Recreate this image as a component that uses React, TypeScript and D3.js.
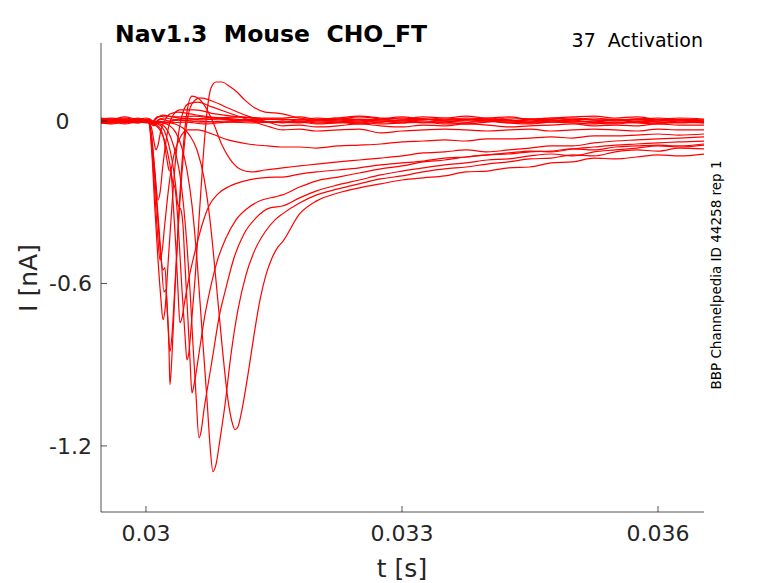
import React, { useEffect, useRef } from "react";
import * as d3 from "d3";

// time in ms, current in nA
const preT = [29.47, 29.6, 29.75, 29.9, 30.0];
const tailT = [31.6, 31.8, 32.0, 32.25, 32.5, 32.75, 33.0, 33.25, 33.5, 33.75, 34.0, 34.25, 34.5, 34.75, 35.0, 35.25, 35.5, 35.75, 36.0, 36.25, 36.54];

const xTicks = [0.03, 0.033, 0.036];
const yTicks = [0, -0.6, -1.2];

type Trace = { pre: number[]; head: [number, number][]; tail: number[] };

const z1: Trace = {
  pre: [0.004, 0.007, 0.0, 0.011, 0.004],
  head: [[30.047, 0.004], [30.105, -0.007], [30.164, 0.007], [30.281, 0], [30.457, 0.011], [30.633, 0.004], [30.867, 0.007], [31.16, 0], [31.395, 0.007]],
  tail: [0.004, 0.007, 0, 0.004, 0.007, 0.004, 0.011, 0.007, 0.004, 0.011, 0.007, 0.004, 0, 0.007, 0.011, 0.004, 0.007, 0, 0.004, 0.007, 0.004],
};
const z2: Trace = {
  pre: [-0.004, 0.0, 0.004, -0.004, 0.0],
  head: [[30.047, -0.004], [30.094, -0.015], [30.141, 0], [30.234, -0.004], [30.398, 0.004], [30.633, -0.004], [30.926, 0], [31.219, 0.004], [31.453, -0.004]],
  tail: [0, -0.004, 0.004, 0, -0.004, 0.004, 0, 0.007, 0, -0.004, 0.004, 0, 0.007, 0.004, -0.004, 0, 0.004, -0.004, 0, 0.004, 0],
};
const z3: Trace = {
  pre: [0.011, 0.007, 0.015, 0.007, 0.011],
  head: [[30.047, 0.007], [30.082, 0], [30.129, 0.015], [30.223, 0.018], [30.375, 0.015], [30.574, 0.018], [30.809, 0.011], [31.102, 0.015], [31.359, 0.011]],
  tail: [0.011, 0.015, 0.007, 0.011, 0.018, 0.011, 0.007, 0.015, 0.011, 0.018, 0.011, 0.015, 0.007, 0.011, 0.015, 0.018, 0.011, 0.015, 0.007, 0.011, 0.007],
};
const z4: Trace = {
  pre: [-0.007, -0.011, -0.004, -0.007, -0.004],
  head: [[30.047, -0.007], [30.094, -0.018], [30.152, -0.004], [30.258, -0.007], [30.457, -0.004], [30.691, -0.011], [30.984, -0.004], [31.277, -0.007], [31.453, -0.004]],
  tail: [-0.007, -0.004, -0.011, -0.007, -0.004, -0.011, -0.007, -0.004, -0.011, -0.007, 0, -0.007, -0.011, -0.004, -0.007, -0.011, -0.004, -0.007, -0.011, -0.004, -0.007],
};
const z5: Trace = {
  pre: [0.007, 0.004, 0.011, 0.004, 0.007],
  head: [[30.047, 0.004], [30.082, -0.004], [30.129, 0.011], [30.199, 0.022], [30.305, 0.015], [30.516, 0.007], [30.75, 0.011], [31.043, 0.004], [31.336, 0.007]],
  tail: [0.007, 0.004, 0.011, 0.004, 0, 0.007, 0.015, 0.007, 0.004, 0.007, 0, 0.011, 0.007, 0, 0.004, 0.011, 0.004, 0.007, 0.011, 0.004, 0],
};
const z6: Trace = {
  pre: [-0.004, -0.007, 0.0, -0.004, 0.0],
  head: [[30.047, 0], [30.094, -0.011], [30.141, 0.004], [30.211, 0.011], [30.352, 0.004], [30.586, 0], [30.867, -0.004], [31.16, 0], [31.43, -0.004]],
  tail: [-0.004, 0, -0.007, -0.004, 0.004, 0, -0.007, 0, -0.004, 0.004, 0, -0.007, -0.004, 0.004, 0, -0.004, -0.007, 0, -0.004, -0.007, -0.004],
};
const q3: Trace = {
  pre: [0.0, 0.004, -0.004, 0.004, 0.0],
  head: [[30.035, -0.004], [30.07, -0.033], [30.094, -0.077], [30.117, -0.107], [30.141, -0.089], [30.176, -0.033], [30.223, 0.004], [30.281, 0.026], [30.375, 0.033], [30.516, 0.026], [30.75, 0.015], [31.043, 0.007], [31.336, 0]],
  tail: [-0.004, -0.007, 0, -0.004, -0.011, -0.004, 0, -0.007, -0.004, -0.011, -0.004, 0, -0.007, -0.004, 0, -0.007, -0.011, -0.004, -0.007, 0, -0.007],
};
const q2: Trace = {
  pre: [0.007, 0.0, 0.007, 0.0, 0.004],
  head: [[30.035, -0.004], [30.07, -0.07], [30.105, -0.188], [30.141, -0.292], [30.164, -0.266], [30.199, -0.162], [30.246, -0.052], [30.305, 0.015], [30.398, 0.041], [30.574, 0.041], [30.809, 0.026], [31.102, 0.015], [31.395, 0.007]],
  tail: [0.007, 0, 0.004, 0.011, 0.004, -0.004, 0.004, 0.007, 0, 0.004, 0.011, 0.004, -0.004, 0, 0.007, 0.004, 0, 0.007, 0.004, -0.004, 0],
};
const q1: Trace = {
  pre: [-0.007, -0.004, -0.011, -0.004, -0.007],
  head: [[30.035, -0.007], [30.07, -0.107], [30.105, -0.273], [30.141, -0.439], [30.164, -0.513], [30.188, -0.483], [30.223, -0.373], [30.27, -0.236], [30.328, -0.125], [30.398, -0.063], [30.492, -0.033], [30.609, -0.033], [30.773, -0.048], [30.961, -0.07], [31.195, -0.085], [31.43, -0.092]],
  tail: [-0.096, -0.096, -0.1, -0.092, -0.089, -0.085, -0.077, -0.074, -0.07, -0.074, -0.066, -0.066, -0.063, -0.059, -0.063, -0.055, -0.055, -0.052, -0.048, -0.052, -0.048],
};
const a: Trace = {
  pre: [0.004, -0.004, 0.0, 0.007, 0.0],
  head: [[30.035, -0.007], [30.07, -0.125], [30.105, -0.328], [30.141, -0.513], [30.176, -0.661], [30.199, -0.734], [30.223, -0.697], [30.258, -0.531], [30.305, -0.31], [30.352, -0.125], [30.41, 0.004], [30.492, 0.063], [30.609, 0.07], [30.773, 0.052], [31.043, 0.022], [31.277, -0.004], [31.453, -0.022]],
  tail: [-0.033, -0.03, -0.037, -0.033, -0.03, -0.044, -0.037, -0.033, -0.03, -0.033, -0.037, -0.033, -0.03, -0.037, -0.033, -0.03, -0.033, -0.037, -0.03, -0.033, -0.033],
};
const b: Trace = {
  pre: [-0.004, 0.004, -0.007, 0.0, -0.004],
  head: [[30.035, -0.004], [30.07, -0.07], [30.105, -0.199], [30.141, -0.347], [30.176, -0.494], [30.211, -0.631], [30.234, -0.624], [30.258, -0.742], [30.281, -0.852], [30.305, -0.79], [30.34, -0.605], [30.387, -0.347], [30.434, -0.144], [30.48, -0.004], [30.539, 0.063], [30.633, 0.085], [30.773, 0.074], [30.961, 0.048], [31.195, 0.018], [31.43, -0.004]],
  tail: [-0.018, -0.015, -0.022, -0.018, -0.011, -0.018, -0.022, -0.015, -0.018, -0.011, -0.015, -0.022, -0.018, -0.015, -0.011, -0.018, -0.015, -0.018, -0.011, -0.015, -0.015],
};
const c: Trace = {
  pre: [0.0, -0.007, 0.004, -0.004, 0.0],
  head: [[30.035, -0.007], [30.07, -0.089], [30.105, -0.218], [30.141, -0.373], [30.176, -0.506], [30.199, -0.55], [30.223, -0.542], [30.246, -0.679], [30.27, -0.845], [30.281, -0.974], [30.305, -0.863], [30.34, -0.624], [30.387, -0.328], [30.434, -0.107], [30.48, 0.033], [30.539, 0.092], [30.609, 0.085], [30.691, 0.055], [30.785, -0.004], [30.891, -0.089], [31.008, -0.151], [31.125, -0.181], [31.242, -0.188], [31.395, -0.181]],
  tail: [-0.173, -0.166, -0.159, -0.151, -0.144, -0.137, -0.129, -0.118, -0.114, -0.107, -0.114, -0.107, -0.1, -0.092, -0.092, -0.081, -0.074, -0.07, -0.066, -0.063, -0.059],
};
const e: Trace = {
  pre: [0.007, 0.011, 0.004, 0.007, 0.004],
  head: [[30.047, -0.004], [30.105, -0.015], [30.164, -0.033], [30.223, -0.077], [30.281, -0.162], [30.316, -0.229], [30.34, -0.247], [30.375, -0.373], [30.422, -0.624], [30.457, -0.79], [30.48, -0.882], [30.504, -0.852], [30.527, -0.771], [30.574, -0.587], [30.621, -0.365], [30.668, -0.144], [30.715, 0.033], [30.762, 0.122], [30.82, 0.144], [30.891, 0.144], [30.973, 0.129], [31.066, 0.107], [31.16, 0.077], [31.277, 0.048], [31.395, 0.033], [31.512, 0.03]],
  tail: [0.026, 0.011, 0.004, 0.007, 0.015, 0.007, 0, 0.004, 0.011, 0.004, 0.007, 0, 0.004, 0.011, 0.004, -0.004, 0.004, 0.007, 0, 0.004, -0.004],
};
const d: Trace = {
  pre: [-0.004, 0.0, -0.004, 0.004, -0.004],
  head: [[30.047, -0.004], [30.105, -0.011], [30.164, -0.026], [30.211, -0.07], [30.246, -0.144], [30.27, -0.181], [30.293, -0.188], [30.316, -0.292], [30.352, -0.476], [30.375, -0.624], [30.398, -0.745], [30.422, -0.727], [30.457, -0.661], [30.504, -0.579], [30.551, -0.513], [30.609, -0.439], [30.668, -0.373], [30.738, -0.314], [30.844, -0.269], [30.984, -0.24], [31.16, -0.221], [31.359, -0.21], [31.512, -0.207]],
  tail: [-0.207, -0.196, -0.188, -0.181, -0.173, -0.162, -0.155, -0.148, -0.137, -0.133, -0.125, -0.122, -0.114, -0.111, -0.103, -0.107, -0.096, -0.092, -0.089, -0.092, -0.085],
};
const f: Trace = {
  pre: [0.004, 0.0, 0.007, 0.0, 0.004],
  head: [[30.047, -0.004], [30.141, -0.011], [30.211, -0.033], [30.258, -0.077], [30.305, -0.144], [30.34, -0.218], [30.375, -0.31], [30.41, -0.328], [30.434, -0.387], [30.457, -0.531], [30.492, -0.734], [30.516, -0.882], [30.539, -1.004], [30.563, -0.974], [30.598, -0.908], [30.645, -0.808], [30.691, -0.716], [30.75, -0.624], [30.832, -0.52], [30.938, -0.432], [31.055, -0.365], [31.195, -0.321], [31.359, -0.292], [31.512, -0.28]],
  tail: [-0.273, -0.244, -0.221, -0.207, -0.192, -0.177, -0.166, -0.151, -0.144, -0.133, -0.125, -0.118, -0.111, -0.114, -0.103, -0.096, -0.089, -0.085, -0.081, -0.077, -0.074],
};
const g: Trace = {
  pre: [0.0, 0.004, -0.004, 0.0, -0.004],
  head: [[30.047, -0.004], [30.164, -0.011], [30.234, -0.026], [30.293, -0.063], [30.352, -0.125], [30.398, -0.199], [30.445, -0.328], [30.48, -0.458], [30.516, -0.624], [30.551, -0.827], [30.586, -1.011], [30.621, -1.17], [30.645, -1.148], [30.68, -1.066], [30.727, -0.974], [30.785, -0.863], [30.855, -0.727], [30.938, -0.616], [31.031, -0.506], [31.148, -0.417], [31.289, -0.358], [31.453, -0.321]],
  tail: [-0.314, -0.284, -0.258, -0.236, -0.218, -0.199, -0.185, -0.173, -0.162, -0.155, -0.144, -0.14, -0.129, -0.122, -0.129, -0.114, -0.107, -0.1, -0.092, -0.096, -0.089],
};
const h: Trace = {
  pre: [-0.007, -0.004, 0.0, -0.007, -0.004],
  head: [[30.047, -0.004], [30.188, -0.007], [30.281, -0.018], [30.352, -0.044], [30.422, -0.1], [30.48, -0.181], [30.539, -0.31], [30.598, -0.513], [30.656, -0.771], [30.715, -1.029], [30.75, -1.196], [30.785, -1.295], [30.82, -1.269], [30.867, -1.177], [30.926, -1.048], [30.996, -0.863], [31.078, -0.697], [31.172, -0.568], [31.277, -0.476], [31.395, -0.41], [31.512, -0.365]],
  tail: [-0.343, -0.303, -0.273, -0.251, -0.232, -0.214, -0.203, -0.188, -0.177, -0.17, -0.159, -0.151, -0.14, -0.137, -0.125, -0.129, -0.114, -0.107, -0.111, -0.1, -0.103],
};
const i: Trace = {
  pre: [0.004, 0.007, 0.004, 0.0, 0.004],
  head: [[30.047, 0], [30.223, -0.004], [30.34, -0.011], [30.434, -0.026], [30.516, -0.055], [30.598, -0.107], [30.68, -0.21], [30.75, -0.365], [30.82, -0.587], [30.891, -0.827], [30.961, -1.03], [31.008, -1.111], [31.043, -1.14], [31.078, -1.129], [31.125, -1.066], [31.195, -0.937], [31.266, -0.79], [31.336, -0.661], [31.406, -0.568], [31.477, -0.506], [31.547, -0.465]],
  tail: [-0.446, -0.343, -0.295, -0.266, -0.247, -0.232, -0.218, -0.21, -0.203, -0.188, -0.185, -0.173, -0.17, -0.155, -0.151, -0.137, -0.14, -0.133, -0.125, -0.129, -0.122],
};

const traces = [z1, z2, z3, z4, z5, z6, q3, q2, q1, a, b, c, e, d, f, g, h, i];

function ChannelChart() {
  const svgRef = useRef<SVGSVGElement>(null);

  useEffect(() => {
    if (!svgRef.current) return;
    const width = 778;
    const height = 583;
    const m = { left: 101, right: 704, top: 43, bottom: 512 };
    const ink = "#262626";
    const font = "DejaVu Sans, sans-serif";

    const svg = d3.select(svgRef.current).attr("width", width).attr("height", height);
    svg.selectAll("*").remove();

    const x = d3.scaleLinear().domain([29.473, 36.539]).range([m.left, m.right]);
    const y = d3.scaleLinear().domain([-1.444, 0.288]).range([m.bottom, m.top]);

    svg
      .append("defs")
      .append("clipPath")
      .attr("id", "plot")
      .append("rect")
      .attr("x", m.left)
      .attr("y", m.top)
      .attr("width", m.right - m.left)
      .attr("height", m.bottom - m.top);

    const line = d3
      .line<[number, number]>()
      .x((p) => x(p[0]))
      .y((p) => y(p[1]))
      .curve(d3.curveMonotoneX);

    const g = svg.append("g").attr("clip-path", "url(#plot)");
    traces.forEach((tr) => {
      const pts: [number, number][] = [
        ...preT.map((t, k) => [t, tr.pre[k]] as [number, number]),
        ...tr.head,
        ...tailT.map((t, k) => [t, tr.tail[k]] as [number, number]),
      ];
      g.append("path")
        .attr("d", line(pts))
        .attr("fill", "none")
        .attr("stroke", "#ff0000")
        .attr("stroke-width", 1.2);
    });

    // axes
    svg.append("line").attr("x1", m.left).attr("x2", m.left).attr("y1", m.top).attr("y2", m.bottom)
      .attr("stroke", ink).attr("stroke-width", 0.8);
    svg.append("line").attr("x1", m.left).attr("x2", m.right).attr("y1", m.bottom).attr("y2", m.bottom)
      .attr("stroke", ink).attr("stroke-width", 0.8);

    xTicks.forEach((v) => {
      const px = x(v * 1000);
      svg.append("line").attr("x1", px).attr("x2", px).attr("y1", m.bottom).attr("y2", m.bottom - 6)
        .attr("stroke", ink).attr("stroke-width", 0.8);
      svg.append("text").attr("x", px).attr("y", 541).attr("text-anchor", "middle")
        .attr("font-family", font).attr("font-size", 22).attr("fill", ink).text(String(v));
    });

    yTicks.forEach((v) => {
      const py = y(v);
      svg.append("line").attr("x1", m.left).attr("x2", m.left + 6).attr("y1", py).attr("y2", py)
        .attr("stroke", ink).attr("stroke-width", 0.8);
      svg.append("text").attr("x", v === 0 ? 69.5 : 92).attr("y", py + 8).attr("text-anchor", "end")
        .attr("font-family", font).attr("font-size", 22).attr("fill", ink).text(String(v));
    });

    svg.append("text").attr("x", 402).attr("y", 577).attr("text-anchor", "middle")
      .attr("font-family", font).attr("font-size", 25).attr("fill", ink).text("t [s]");
    svg.append("text").attr("transform", "translate(37,278) rotate(-90)").attr("text-anchor", "middle")
      .attr("font-family", font).attr("font-size", 25).attr("fill", ink).text("I [nA]");

    svg.append("text").attr("x", 115).attr("y", 42).attr("font-family", font).attr("font-size", 23.5)
      .attr("font-weight", "bold").attr("fill", "#000").style("white-space", "pre").text("Nav1.3  Mouse  CHO_FT");
    svg.append("text").attr("x", 703).attr("y", 47).attr("text-anchor", "end").attr("font-family", font)
      .attr("font-size", 19).attr("fill", "#000").style("white-space", "pre").text("37  Activation");
    svg.append("text").attr("transform", "translate(721,275) rotate(-90)").attr("text-anchor", "middle")
      .attr("font-family", font).attr("font-size", 13.5).attr("fill", "#000").text("BBP Channelpedia ID 44258 rep 1");
  }, []);

  return (
    <div style={{ position: "absolute", left: 0, top: 0, background: "#fff" }}>
      <svg ref={svgRef} style={{ display: "block" }} />
    </div>
  );
}

export default ChannelChart;
